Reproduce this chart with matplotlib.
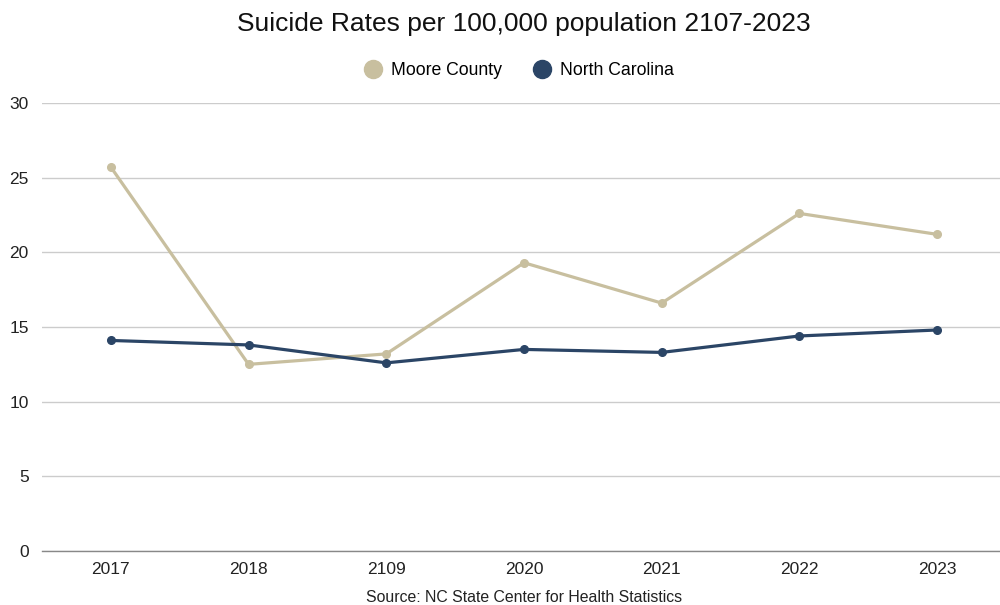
import matplotlib
matplotlib.use("Agg")
import matplotlib.pyplot as plt
from matplotlib.lines import Line2D

plt.rcParams['font.family'] = ['Liberation Sans', 'DejaVu Sans']

years = ["2017", "2018", "2109", "2020", "2021", "2022", "2023"]
moore_county = [25.7, 12.5, 13.2, 19.3, 16.6, 22.6, 21.2]
north_carolina = [14.1, 13.8, 12.6, 13.5, 13.3, 14.4, 14.8]
y_ticks = [0, 5, 10, 15, 20, 25, 30]

moore_color = "#c8bf9f"
nc_color = "#2b4566"

fig = plt.figure(figsize=(10, 6.05), dpi=100)
ax = fig.add_axes([0.042, 0.089, 0.964, 0.741])

x = list(range(len(years)))
ax.plot(x, moore_county, color=moore_color, lw=2.3, marker="o", ms=5.5, zorder=3)
ax.plot(x, north_carolina, color=nc_color, lw=2.3, marker="o", ms=5.5, zorder=4)

ax.set_xlim(-0.5, len(years) - 0.5)
ax.set_ylim(0, 30)
ax.set_yticks(y_ticks)
ax.set_xticks(x)
ax.set_xticklabels(years)
ax.tick_params(axis="both", length=0, labelsize=12.5, colors="#222222")
ax.tick_params(axis="x", pad=7.5)
ax.tick_params(axis="y", pad=9.5)
for lbl in ax.get_yticklabels():
    lbl.set_horizontalalignment("right")

ax.grid(axis="y", color="#cccccc", lw=1)
ax.set_axisbelow(True)
for s in ["top", "right", "left"]:
    ax.spines[s].set_visible(False)
ax.spines["bottom"].set_color("#888888")
ax.spines["bottom"].set_linewidth(1)

fig.text(0.524, 0.961, "Suicide Rates per 100,000 population 2107-2023",
         ha="center", va="center", fontsize=19, color="#111111")

handles = [
    Line2D([], [], color=moore_color, marker="o", ls="none", ms=13),
    Line2D([], [], color=nc_color, marker="o", ls="none", ms=13),
]
fig.legend(handles, ["Moore County", "North Carolina"], loc="center",
           bbox_to_anchor=(0.519, 0.884), ncol=2, frameon=False,
           fontsize=12.7, handletextpad=0.5, columnspacing=1.8,
           handlelength=1.0)

fig.text(0.524, 0.013, "Source: NC State Center for Health Statistics",
         ha="center", va="center", fontsize=11.4, color="#222222")

fig.savefig("out.png", dpi=100)
